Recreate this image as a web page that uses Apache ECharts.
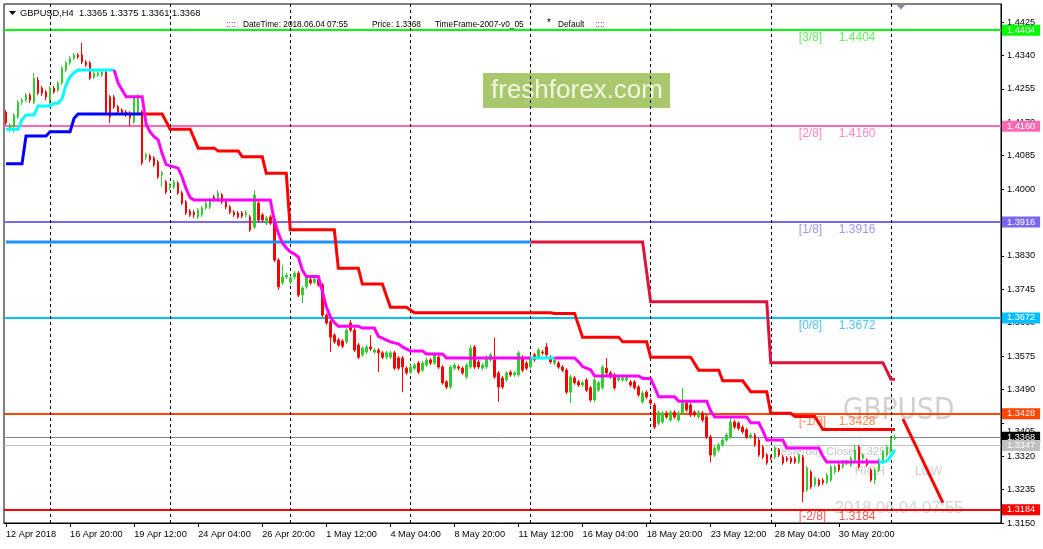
<!DOCTYPE html>
<html><head><meta charset="utf-8">
<script src="https://cdn.jsdelivr.net/npm/echarts@6/dist/echarts.min.js"></script>
<style>html,body{margin:0;padding:0;background:#fff}#c{width:1043px;height:549px}</style>
</head><body><div id="c"></div>
<script>
const FONT = '"Liberation Sans", Arial, sans-serif';
// H4 bars [open, high, low, close]
const ohlc = [
[1.4196,1.4201,1.4163,1.4168],[1.4155,1.4168,1.4145,1.4163],[1.4158,1.4193,1.4143,1.4188],[1.4183,1.4226,1.4178,1.4221],
[1.4221,1.4232,1.4214,1.4226],[1.4226,1.4244,1.4221,1.4239],[1.4239,1.4244,1.4219,1.4226],[1.4221,1.4295,1.4216,1.4282],
[1.4277,1.4285,1.4239,1.4244],[1.4257,1.4262,1.4237,1.4244],[1.4247,1.4252,1.4226,1.4234],[1.4226,1.4262,1.4216,1.4257],
[1.4257,1.4262,1.4242,1.4247],[1.4252,1.4275,1.4247,1.4270],[1.4270,1.4313,1.4265,1.4308],[1.4303,1.4326,1.4298,1.4321],
[1.4321,1.4338,1.4316,1.4333],[1.4333,1.4346,1.4328,1.4341],[1.4341,1.4346,1.4331,1.4336],[1.4341,1.4372,1.4318,1.4323],
[1.4323,1.4328,1.4311,1.4316],[1.4321,1.4326,1.4277,1.4282],[1.4285,1.4300,1.4280,1.4295],[1.4290,1.4300,1.4285,1.4295],
[1.4290,1.4303,1.4285,1.4298],[1.4298,1.4303,1.4188,1.4193],[1.4234,1.4239,1.4168,1.4183],[1.4234,1.4239,1.4204,1.4209],
[1.4209,1.4214,1.4191,1.4196],[1.4201,1.4206,1.4188,1.4193],[1.4196,1.4201,1.4183,1.4188],[1.4193,1.4198,1.4160,1.4181],
[1.4171,1.4237,1.4166,1.4232],[1.4193,1.4242,1.4188,1.4234],[1.4196,1.4201,1.4061,1.4066],[1.4081,1.4092,1.4074,1.4087],
[1.4084,1.4089,1.4069,1.4074],[1.4079,1.4084,1.4056,1.4061],[1.4069,1.4074,1.4026,1.4031],[1.4036,1.4046,1.4005,1.4041],
[1.4018,1.4023,1.3987,1.3992],[1.4003,1.4015,1.3997,1.4010],[1.4005,1.4023,1.4000,1.4018],[1.4015,1.4020,1.3985,1.3990],
[1.3990,1.3995,1.3959,1.3964],[1.3967,1.3972,1.3934,1.3939],[1.3944,1.3949,1.3929,1.3934],[1.3941,1.3946,1.3926,1.3934],
[1.3929,1.3952,1.3924,1.3947],[1.3934,1.3957,1.3929,1.3952],[1.3952,1.3969,1.3947,1.3964],[1.3954,1.3977,1.3949,1.3972],
[1.3980,1.3985,1.3967,1.3972],[1.3972,1.3997,1.3967,1.3990],[1.3985,1.3990,1.3962,1.3967],[1.3967,1.3972,1.3949,1.3954],
[1.3954,1.3959,1.3936,1.3941],[1.3941,1.3946,1.3929,1.3934],[1.3939,1.3944,1.3924,1.3929],[1.3939,1.3944,1.3926,1.3931],
[1.3934,1.3946,1.3929,1.3941],[1.3929,1.3934,1.3891,1.3896],[1.3903,1.3997,1.3898,1.3985],[1.3964,1.3969,1.3916,1.3921],
[1.3934,1.3939,1.3916,1.3921],[1.3913,1.3931,1.3908,1.3926],[1.3929,1.3934,1.3908,1.3913],[1.3921,1.3926,1.3814,1.3819],
[1.3819,1.3824,1.3743,1.3751],[1.3761,1.3807,1.3756,1.3776],[1.3776,1.3786,1.3771,1.3781],[1.3763,1.3779,1.3758,1.3774],
[1.3776,1.3791,1.3771,1.3786],[1.3786,1.3791,1.3725,1.3730],[1.3730,1.3753,1.3710,1.3748],[1.3751,1.3779,1.3746,1.3774],
[1.3769,1.3774,1.3756,1.3761],[1.3763,1.3776,1.3758,1.3771],[1.3769,1.3774,1.3751,1.3756],[1.3756,1.3761,1.3674,1.3679],
[1.3679,1.3684,1.3654,1.3659],[1.3662,1.3667,1.3585,1.3623],[1.3628,1.3633,1.3606,1.3611],[1.3616,1.3621,1.3598,1.3603],
[1.3613,1.3618,1.3595,1.3600],[1.3611,1.3646,1.3606,1.3641],[1.3659,1.3667,1.3636,1.3641],[1.3641,1.3646,1.3585,1.3590],
[1.3603,1.3608,1.3567,1.3572],[1.3578,1.3600,1.3573,1.3595],[1.3585,1.3603,1.3580,1.3598],[1.3598,1.3628,1.3588,1.3593],
[1.3585,1.3595,1.3580,1.3590],[1.3590,1.3595,1.3534,1.3583],[1.3583,1.3588,1.3567,1.3572],[1.3572,1.3588,1.3567,1.3583],
[1.3572,1.3588,1.3567,1.3583],[1.3583,1.3588,1.3539,1.3544],[1.3570,1.3575,1.3539,1.3544],[1.3570,1.3575,1.3483,1.3547],
[1.3544,1.3549,1.3527,1.3532],[1.3534,1.3552,1.3529,1.3547],[1.3544,1.3557,1.3539,1.3552],[1.3557,1.3562,1.3529,1.3534],
[1.3539,1.3562,1.3534,1.3557],[1.3552,1.3570,1.3547,1.3565],[1.3565,1.3570,1.3552,1.3557],[1.3557,1.3583,1.3552,1.3578],
[1.3572,1.3577,1.3542,1.3547],[1.3547,1.3552,1.3502,1.3507],[1.3509,1.3514,1.3491,1.3496],[1.3496,1.3552,1.3491,1.3547],
[1.3544,1.3557,1.3539,1.3552],[1.3547,1.3552,1.3539,1.3544],[1.3544,1.3549,1.3527,1.3532],[1.3522,1.3557,1.3517,1.3552],
[1.3547,1.3603,1.3542,1.3595],[1.3598,1.3603,1.3542,1.3547],[1.3560,1.3565,1.3542,1.3547],[1.3544,1.3557,1.3539,1.3552],
[1.3547,1.3577,1.3542,1.3572],[1.3565,1.3583,1.3560,1.3578],[1.3565,1.3621,1.3517,1.3522],[1.3532,1.3537,1.3458,1.3496],
[1.3519,1.3524,1.3491,1.3496],[1.3514,1.3537,1.3509,1.3532],[1.3534,1.3539,1.3522,1.3527],[1.3527,1.3537,1.3522,1.3532],
[1.3527,1.3588,1.3522,1.3583],[1.3572,1.3577,1.3534,1.3539],[1.3557,1.3562,1.3539,1.3544],[1.3547,1.3577,1.3542,1.3572],
[1.3578,1.3583,1.3560,1.3565],[1.3572,1.3595,1.3567,1.3590],[1.3585,1.3590,1.3578,1.3583],[1.3598,1.3608,1.3573,1.3578],
[1.3572,1.3577,1.3555,1.3560],[1.3557,1.3570,1.3552,1.3565],[1.3557,1.3562,1.3542,1.3547],[1.3547,1.3552,1.3534,1.3539],
[1.3539,1.3544,1.3478,1.3483],[1.3483,1.3527,1.3455,1.3522],[1.3519,1.3524,1.3502,1.3507],[1.3509,1.3514,1.3496,1.3501],
[1.3501,1.3512,1.3496,1.3507],[1.3514,1.3519,1.3483,1.3488],[1.3494,1.3499,1.3458,1.3463],[1.3463,1.3519,1.3458,1.3514],
[1.3488,1.3512,1.3483,1.3507],[1.3494,1.3552,1.3489,1.3547],[1.3544,1.3570,1.3527,1.3532],[1.3532,1.3537,1.3517,1.3522],
[1.3527,1.3532,1.3489,1.3494],[1.3514,1.3524,1.3509,1.3519],[1.3514,1.3524,1.3509,1.3519],[1.3514,1.3524,1.3509,1.3519],
[1.3509,1.3514,1.3496,1.3501],[1.3509,1.3514,1.3489,1.3494],[1.3496,1.3501,1.3471,1.3476],[1.3458,1.3486,1.3453,1.3481],
[1.3483,1.3488,1.3466,1.3471],[1.3463,1.3468,1.3450,1.3455],[1.3450,1.3455,1.3389,1.3394],[1.3404,1.3437,1.3399,1.3432],
[1.3407,1.3435,1.3402,1.3430],[1.3430,1.3435,1.3415,1.3420],[1.3412,1.3437,1.3407,1.3432],[1.3432,1.3437,1.3415,1.3420],
[1.3412,1.3435,1.3407,1.3430],[1.3430,1.3494,1.3425,1.3455],[1.3455,1.3460,1.3433,1.3438],[1.3450,1.3455,1.3420,1.3425],
[1.3432,1.3437,1.3420,1.3425],[1.3420,1.3437,1.3415,1.3432],[1.3430,1.3435,1.3407,1.3412],[1.3420,1.3425,1.3364,1.3369],
[1.3369,1.3374,1.3305,1.3323],[1.3323,1.3346,1.3318,1.3341],[1.3336,1.3354,1.3331,1.3349],[1.3349,1.3366,1.3344,1.3361],
[1.3361,1.3379,1.3356,1.3374],[1.3369,1.3417,1.3364,1.3407],[1.3407,1.3412,1.3389,1.3394],[1.3404,1.3409,1.3386,1.3391],
[1.3394,1.3399,1.3377,1.3382],[1.3387,1.3392,1.3364,1.3369],[1.3369,1.3379,1.3364,1.3374],[1.3374,1.3379,1.3344,1.3349],
[1.3361,1.3366,1.3318,1.3323],[1.3343,1.3348,1.3313,1.3318],[1.3323,1.3328,1.3298,1.3303],[1.3318,1.3323,1.3310,1.3315],
[1.3318,1.3346,1.3313,1.3341],[1.3336,1.3341,1.3318,1.3323],[1.3318,1.3323,1.3298,1.3303],[1.3315,1.3320,1.3305,1.3310],
[1.3315,1.3320,1.3300,1.3305],[1.3315,1.3320,1.3300,1.3305],[1.3305,1.3328,1.3300,1.3323],[1.3318,1.3323,1.3203,1.3229],
[1.3234,1.3295,1.3229,1.3290],[1.3280,1.3285,1.3237,1.3242],[1.3247,1.3269,1.3242,1.3264],[1.3259,1.3264,1.3242,1.3247],
[1.3259,1.3264,1.3247,1.3252],[1.3254,1.3277,1.3249,1.3272],[1.3259,1.3298,1.3254,1.3293],[1.3280,1.3298,1.3275,1.3293],
[1.3298,1.3303,1.3280,1.3285],[1.3293,1.3310,1.3288,1.3305],[1.3305,1.3310,1.3298,1.3303],[1.3298,1.3320,1.3293,1.3315],
[1.3310,1.3349,1.3305,1.3336],[1.3343,1.3348,1.3288,1.3293],[1.3315,1.3328,1.3310,1.3323],[1.3310,1.3315,1.3293,1.3298],
[1.3285,1.3290,1.3254,1.3259],[1.3259,1.3290,1.3249,1.3285],[1.3285,1.3315,1.3280,1.3310],[1.3305,1.3336,1.3300,1.3331],
[1.3323,1.3348,1.3318,1.3343],[1.3336,1.3371,1.3331,1.3366],[1.3365,1.3375,1.3361,1.3368]
];
const emptySlots = 26; // chart shift area on the right
const xTickLabels = ['12 Apr 2018','16 Apr 20:00','19 Apr 12:00','24 Apr 04:00','26 Apr 20:00','1 May 12:00','4 May 04:00','8 May 20:00','11 May 12:00','16 May 04:00','18 May 20:00','23 May 12:00','28 May 04:00','30 May 20:00'];
const weekStarts = [11,41,71,101,131,161,191,221];
const yTicks = [1.4425,1.4340,1.4255,1.4170,1.4085,1.4000,1.3915,1.3830,1.3745,1.3660,1.3575,1.3490,1.3405,1.3320,1.3235,1.3150];

// trailing-stop style indicator lines [barIndex, price]
const blueTrail = [[0,1.4064],[4,1.4064],[5,1.4135],[10,1.4135],[11,1.4146],[16,1.4146],[17,1.4180],[18,1.4191],[34,1.4191]];
const redTrail = [[34,1.4191],[39,1.4191],[41,1.4152],[46,1.4152],[48,1.4104],[52,1.4104],[53,1.4097],[58,1.4097],[59,1.4082],[64,1.4082],[65,1.4040],[70,1.4040],[71,1.3896],[82,1.3896],[83,1.3798],[88,1.3798],[89,1.3758],[94,1.3758],[96,1.3699],[100,1.3699],[102,1.3685],[136,1.3685],[137,1.3683],[142,1.3683],[144,1.3623],[153,1.3623],[154,1.3611],[160,1.3611],[161,1.3572],[171,1.3572],[173,1.3539],[178,1.3539],[179,1.3512],[184,1.3512],[186,1.3484],[190,1.3484],[191,1.3429],[196,1.3429],[197,1.3421],[202,1.3421],[204,1.3388],[222,1.3388]];
const dodgerTrail = [[0,1.3865],[131,1.3865]];
const crimsonTrail = [[131,1.3865],[159,1.3865],[161,1.3713],[190,1.3713],[191,1.3558],[219,1.3558],[221,1.3516],[222,1.3516]];
const cyanA = [[0,1.4152],[3,1.4152],[4,1.4176],[5,1.4188],[7,1.4188],[8,1.4211],[11,1.4211],[12,1.4218],[13,1.4218],[14,1.4230],[15,1.4265],[16,1.4286],[17,1.4296],[18,1.4303],[27,1.4303]];
const magentaA = [[27,1.4303],[28,1.4270],[29,1.4252],[30,1.4235],[34,1.4235],[35,1.4165],[36,1.4145],[37,1.4133],[38,1.4125],[39,1.4090],[40,1.4062],[43,1.4053],[44,1.4030],[45,1.4000],[46,1.3978],[47,1.3972],[66,1.3972],[67,1.3921],[68,1.3888],[69,1.3863],[70,1.3850],[71,1.3840],[72,1.3835],[73,1.3827],[74,1.3794],[75,1.3777],[78,1.3777],[79,1.3740],[80,1.3700],[81,1.3675],[82,1.3660],[83,1.3651],[88,1.3651],[89,1.3646],[92,1.3646],[93,1.3625],[96,1.3611],[98,1.3606],[99,1.3598],[101,1.3588],[104,1.3588],[105,1.3580],[109,1.3580],[110,1.3570],[131,1.3570]];
const cyanB = [[131,1.3570],[137,1.3570]];
const magentaB = [[137,1.3570],[142,1.3570],[143,1.3560],[144,1.3548],[146,1.3540],[147,1.3524],[158,1.3524],[159,1.3518],[161,1.3518],[162,1.3495],[163,1.3471],[167,1.3471],[168,1.3460],[175,1.3460],[176,1.3435],[177,1.3420],[185,1.3420],[186,1.3405],[188,1.3405],[189,1.3385],[190,1.3361],[194,1.3361],[195,1.3341],[203,1.3341],[204,1.3320],[205,1.3305],[218,1.3305]];
const cyanC = [[218,1.3305],[219,1.3305],[220,1.3308],[221,1.3320],[222,1.3336]];
const arrowLine = [[224.25,1.3415],[233.5,1.3201]];

// Murrey math levels
const levelNames = ['[3/8]','[2/8]','[1/8]','[0/8]','[-1/8]','[-2/8]'];
const levelValues = [1.4404,1.4160,1.3916,1.3672,1.3428,1.3184];
const levelColors = ['#00ff00','#ff69b4','#7b68ee','#00bfff','#ff4500','#ff0000'];
const levelTextColors = ['#3ee83e','#ff69b4','#8a78ee','#1eb4f0','#ff6a2a','#ff2a2a'];
const bidPrice = 1.3368;
const prevPrice = 1.3347;

// annotation texts [barIndex, price, text]
const notes = [
  {pos:[209,1.3434], text:'GBPUSD', size:29.5, narrow:true, color:'#c4c4c4'},
  {pos:[192.25,1.3331], text:'Yesterday Close 1.3294', size:11, color:'#b4b4b4'},
  {pos:[212.25,1.3280], text:'HIGH', size:12, color:'#c4c4c4'},
  {pos:[227.25,1.3280], text:'LOW', size:12, color:'#c4c4c4'},
  {pos:[207.25,1.3187], text:'2018.06.04 07:55', size:16.5, color:'#c8c8c8'}
];

// category axis: H4 bar times (weekdays only)
const cats = [];
{
  let t = Date.UTC(2018,3,12,4,0);
  while (cats.length < ohlc.length) {
    const d = new Date(t);
    const wd = d.getUTCDay();
    if (wd !== 0 && wd !== 6) cats.push(d.toISOString().slice(0,16));
    t += 4*3600*1000;
  }
  for (let k=0;k<emptySlots;k++) cats.push('s'+k);
}

const chart = echarts.init(document.getElementById('c'), null, {renderer:'canvas'});
const lineS = (name, data, color, width, z) => ({
  name, type:'line', data, symbol:'none', z: z||4, silent:true, animation:false,
  lineStyle:{color, width, cap:'butt', join:'miter'}
});

const levelMarks = levelValues.map((v,i)=>({
  yAxis:v,
  lineStyle:{color:levelColors[i], width:2, type:'solid'},
  label:{show:true, position:'end', formatter:v.toFixed(4), backgroundColor:levelColors[i], color:'#fff',
         padding:[1,5,0,5], distance:1, fontSize:9.2, fontFamily:FONT, lineHeight:10}
}));
levelMarks.push({yAxis:bidPrice, lineStyle:{color:'#7a8898', width:1, type:'solid'},
  label:{show:true, position:'end', formatter:bidPrice.toFixed(4), backgroundColor:'#000', color:'#fff', padding:[1,5,0,5], distance:1, fontSize:9.2, fontFamily:FONT, lineHeight:10}});
levelMarks.push({yAxis:prevPrice, lineStyle:{color:'#c0c0c0', width:1, type:'solid'},
  label:{show:true, position:'end', formatter:prevPrice.toFixed(4), backgroundColor:'#c0c0c0', color:'#fff', padding:[1,5,0,5], distance:1, fontSize:9.2, fontFamily:FONT, lineHeight:10}});
const sepMarks = weekStarts.map(i=>({xAxis:cats[i], lineStyle:{color:'#000', width:1, type:[3,3]}, label:{show:false}}));

const levelLabelData = [];
levelValues.forEach((v,i)=>{
  levelLabelData.push({value:[198,v], label:{formatter:levelNames[i], color:levelTextColors[i]}});
  levelLabelData.push({value:[208,v], label:{formatter:v.toFixed(4), color:levelTextColors[i]}});
});

const option = {
  animation:false,
  backgroundColor:'#fff',
  grid:{left:4, right:42, top:4, bottom:26, show:true, borderColor:'#000', borderWidth:1, backgroundColor:'transparent'},
  xAxis:{
    type:'category', data:cats, boundaryGap:true,
    axisLine:{show:true, lineStyle:{color:'#000', width:1}},
    axisTick:{show:true, alignWithLabel:true, length:4, interval:(i)=> i%16===0 && i<=208, lineStyle:{color:'#000'}},
    axisLabel:{show:true, interval:(i)=> i%16===0 && i<=208, formatter:(v,i)=> xTickLabels[Math.round(i/16)] || '',
      align:'left', margin:7, fontSize:9.2, fontFamily:FONT, color:'#000'},
    splitLine:{show:false}
  },
  yAxis:{
    type:'value', position:'right', min:1.3150, max:1.44708,
    axisLine:{show:true, lineStyle:{color:'#000', width:1}},
    axisTick:{show:true, length:3, customValues:yTicks, lineStyle:{color:'#000'}},
    axisLabel:{show:true, customValues:yTicks, margin:6, fontSize:9.2, fontFamily:FONT, color:'#000',
      formatter:(v)=> { const s = (+v).toFixed(4); return s==='1.3405' ? '{s|'+s+'}' : s; },
      rich:{s:{padding:[18,0,0,0], fontSize:9.2, fontFamily:FONT, color:'#000'}}},
    splitLine:{show:false}
  },
  graphic:[
    {type:'rect', z:0, shape:{x:483, y:73, width:187, height:35}, style:{fill:'#a9c76c'}},
    {type:'text', z:1, style:{text:'freshforex.com', x:577, y:91, align:'center', verticalAlign:'middle', font:'26px "Liberation Sans", Arial, sans-serif', fill:'#f3f7e1'}},
    {type:'polygon', z:10, shape:{points:[[9,11],[16,11],[12.5,15]]}, style:{fill:'#000'}},
    {type:'text', z:10, style:{text:'GBPUSD,H4  1.3365 1.3375 1.3361 1.3368', x:20, y:13.5, verticalAlign:'middle', font:'9.3px "Liberation Sans", Arial, sans-serif', fill:'#000'}},
    {type:'text', z:10, style:{text:'::::', x:226, y:25, verticalAlign:'middle', font:'9px "Liberation Sans", Arial, sans-serif', fill:'#800080'}},
    {type:'text', z:10, style:{text:'DateTime: 2018.06.04 07:55', x:243, y:25, verticalAlign:'middle', font:'8.3px "Liberation Sans", Arial, sans-serif', fill:'#000'}},
    {type:'text', z:10, style:{text:'Price: 1.3368', x:372, y:25, verticalAlign:'middle', font:'8.3px "Liberation Sans", Arial, sans-serif', fill:'#000'}},
    {type:'text', z:10, style:{text:'TimeFrame-2007-v0_05', x:435, y:25, verticalAlign:'middle', font:'8.3px "Liberation Sans", Arial, sans-serif', fill:'#000'}},
    {type:'text', z:10, style:{text:'*', x:547, y:23, verticalAlign:'middle', font:'10px "Liberation Sans", Arial, sans-serif', fill:'#000'}},
    {type:'text', z:10, style:{text:'Default', x:558, y:25, verticalAlign:'middle', font:'8.3px "Liberation Sans", Arial, sans-serif', fill:'#000'}},
    {type:'text', z:10, style:{text:'::::', x:595, y:25, verticalAlign:'middle', font:'9px "Liberation Sans", Arial, sans-serif', fill:'#800080'}},
    {type:'polygon', z:10, shape:{points:[[896,4],[906,4],[901,9.5]]}, style:{fill:'#7f8c99'}}
  ],
  series:[
    {
      name:'notes', type:'scatter', z:1, silent:true, symbolSize:0,
      data: notes.map(n=>({value:n.pos, label:{show:true, position:'right', distance:0, formatter:n.text,
        fontSize:n.size, color:n.color,
        fontFamily: n.narrow ? '"Liberation Sans Narrow", "Arial Narrow", "DejaVu Sans Condensed", sans-serif' : FONT}}))
    },
    {
      name:'GBPUSD', type:'candlestick', z:2, clip:false, silent:true,
      data: ohlc.map(b=>[b[0],b[3],b[2],b[1]]),
      barWidth:2,
      itemStyle:{color:'#32cd32', color0:'#ff0000', borderColor:'#32cd32', borderColor0:'#ff0000', borderWidth:1},
      markLine:{symbol:['none','none'], silent:true, animation:false, z:2, precision:4,
        data: levelMarks.concat(sepMarks)}
    },
    {
      name:'levelLabels', type:'scatter', z:3, silent:true, symbolSize:0,
      data: levelLabelData,
      label:{show:true, position:'right', distance:0, offset:[0,7.5], fontSize:12, fontFamily:FONT}
    },
    lineS('dodgerTrail', dodgerTrail, '#1e90ff', 3),
    lineS('crimsonTrail', crimsonTrail, '#dc143c', 3),
    lineS('blueTrail', blueTrail, '#0000ff', 3),
    lineS('redTrail', redTrail, '#ff0000', 3),
    lineS('cyanA', cyanA, '#00ffff', 3),
    lineS('magentaA', magentaA, '#ff00ff', 3),
    lineS('cyanB', cyanB, '#00ffff', 3),
    lineS('magentaB', magentaB, '#ff00ff', 3),
    lineS('cyanC', cyanC, '#00ffff', 3),
    lineS('arrowLine', arrowLine, '#ff0000', 3)
  ]
};
chart.setOption(option);
</script>
</body></html>
